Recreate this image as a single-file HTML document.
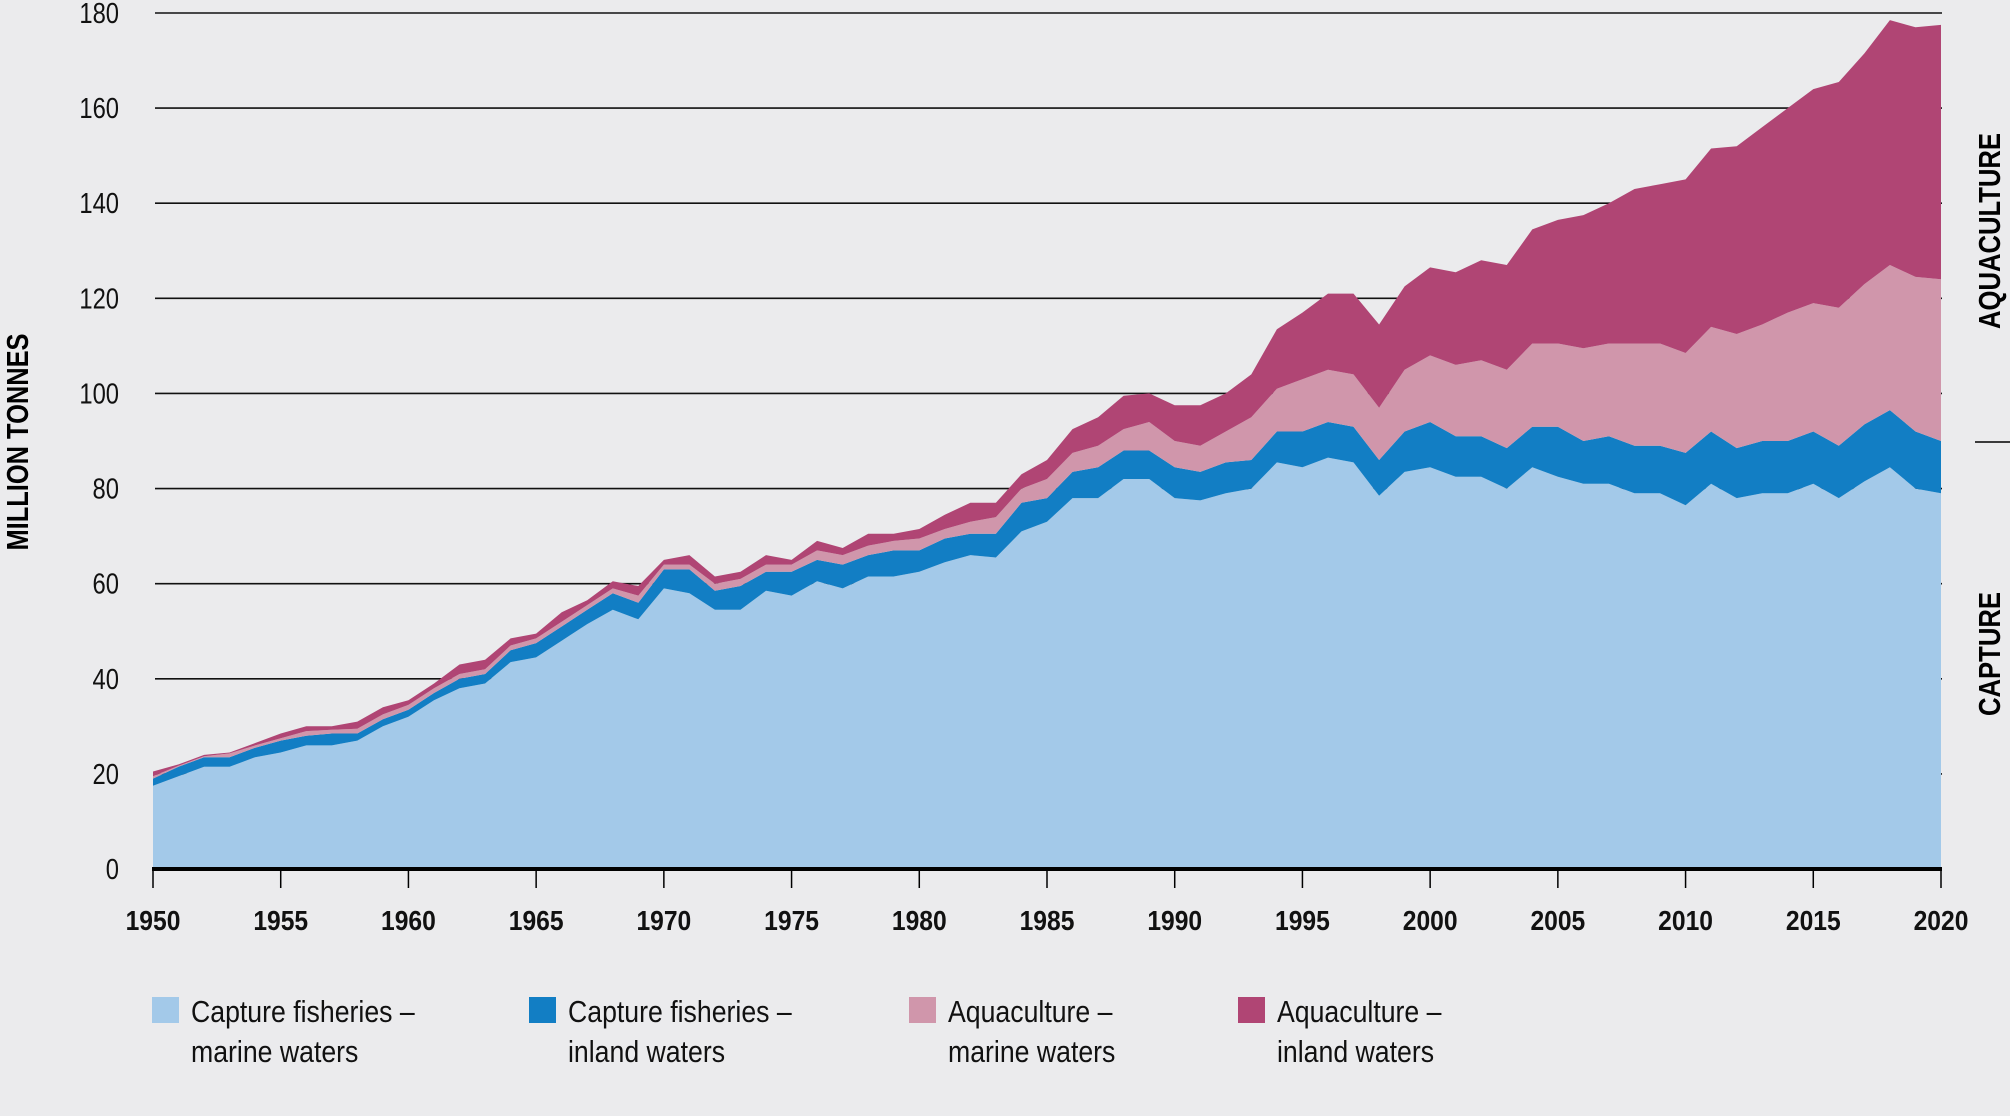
<!DOCTYPE html>
<html><head><meta charset="utf-8"><style>
html,body{margin:0;padding:0;background:#ebebed;}
svg{display:block;font-family:"Liberation Sans Narrow","Liberation Sans",sans-serif;}
</style></head><body>
<svg id="chart" width="2010" height="1116" viewBox="0 0 2010 1116" xmlns="http://www.w3.org/2000/svg">
<rect width="2010" height="1116" fill="#ebebed"/>
<g id="grid"></g>
<g id="areas"></g>
<g id="axes"></g>
<text transform="translate(28,442) rotate(-90)" text-anchor="middle" font-weight="bold" font-size="31" textLength="217" lengthAdjust="spacingAndGlyphs">MILLION TONNES</text>
<text transform="translate(2000,231) rotate(-90)" text-anchor="middle" font-weight="bold" font-size="31" textLength="196" lengthAdjust="spacingAndGlyphs">AQUACULTURE</text>
<text transform="translate(2000,654) rotate(-90)" text-anchor="middle" font-weight="bold" font-size="31" textLength="124" lengthAdjust="spacingAndGlyphs">CAPTURE</text>
<line x1="1975" y1="442" x2="2010" y2="442" stroke="#000" stroke-width="1.5"/>
<g id="legend"></g>
</svg>
<script>
const years = [];
for (let y = 1950; y <= 2020; y++) years.push(y);
const captureMarine = [17.5,19.5,21.5,21.5,23.5,24.5,26,26,27,30,32,35.5,38,39,43.5,44.5,48,51.5,54.5,52.5,59,58,54.5,54.5,58.5,57.5,60.5,59,61.5,61.5,62.5,64.5,66,65.5,71,73,78,78,82,82,78,77.5,79,80,85.5,84.5,86.5,85.5,78.5,83.5,84.5,82.5,82.5,80,84.5,82.5,81,81,79,79,76.5,81,78,79,79,81,78,81.5,84.5,80,79];
const captureInland = [1.5,2,2,2,2,2.5,2,2.5,1.5,1.5,1.5,1.5,2,2,2.5,3,3,3,3.5,3.5,4,5,4,5,4,5,4.5,5,4.5,5.5,4.5,5,4.5,5,6,5,5.5,6.5,6,6,6.5,6,6.5,6,6.5,7.5,7.5,7.5,7.5,8.5,9.5,8.5,8.5,8.5,8.5,10.5,9,10,10,10,11,11,10.5,11,11,11,11,12,12,12,11];
const aquaMarine = [0.5,0.2,0.2,0.8,0.5,0.5,1,0.8,1,1,1,1,1,1,1,1,1,1,1,1.5,1,1,1.5,1.5,1.5,1.5,2,2,2,2,2.5,2,2.5,3.5,3,4,4,4.5,4.5,6,5.5,5.5,6.5,9,9,11,11,11,11,13,14,15,16,16.5,17.5,17.5,19.5,19.5,21.5,21.5,21,22,24,24.5,27,27,29,29.5,30.5,32.5,34];
const aquaInland = [1,0.3,0.3,0.2,0.5,1,1,0.7,1.5,1.5,1,1,2,2,1.5,1,2,1,1.5,2,1,2,1.5,1.5,2,1,2,1.5,2.5,1.5,2,3,4,3,3,4,5,6,7,6,7.5,8.5,8,9,12.5,14,16,17,17.5,17.5,18.5,19.5,21,22,24,26,28,29.5,32.5,33.5,36.5,37.5,39.5,41.5,43,45,47.5,48.5,51.5,52.5,53.5];
const yTicks = [0,20,40,60,80,100,120,140,160,180];
const xTicks = [1950,1955,1960,1965,1970,1975,1980,1985,1990,1995,2000,2005,2010,2015,2020];
const legendLabels = [["Capture fisheries –","marine waters"],["Capture fisheries –","inland waters"],["Aquaculture –","marine waters"],["Aquaculture –","inland waters"]];

const NS = "http://www.w3.org/2000/svg";
const X0 = 153, X1 = 1941, Y0 = 869, Y1 = 13;
const xScale = yr => X0 + (yr - 1950) / 70 * (X1 - X0);
const yScale = v => Y0 - v / 180 * (Y0 - Y1);
function mk(tag, attrs, parent) { const e = document.createElementNS(NS, tag); for (const k in attrs) e.setAttribute(k, attrs[k]); parent.appendChild(e); return e; }

const grid = document.getElementById('grid');
yTicks.forEach(v => {
  if (v > 0) {
    const l = mk('line', {x1: 155, x2: 1942, y1: yScale(v), y2: yScale(v), stroke: '#111', 'stroke-width': 1.6}, grid);
    
    
  }
  const t = mk('text', {transform: 'translate(119,' + (yScale(v) + 10) + ') scale(0.82,1)', 'text-anchor': 'end', 'font-size': 29, fill: '#111'}, grid);
  t.textContent = v;
  
  
});

const series = [captureMarine, captureInland, aquaMarine, aquaInland];
const colors = ['#a3c9e9', '#127ec4', '#d096ab', '#b04574'];
const names = ['area-capture-marine', 'area-capture-inland', 'area-aquaculture-marine', 'area-aquaculture-inland'];
const areas = document.getElementById('areas');
let base = years.map(() => 0);
series.forEach((s, i) => {
  const top = base.map((b, j) => b + s[j]);
  let d = '';
  years.forEach((yr, j) => { d += (j ? 'L' : 'M') + xScale(yr).toFixed(1) + ',' + yScale(top[j]).toFixed(1); });
  for (let j = years.length - 1; j >= 0; j--) d += 'L' + xScale(years[j]).toFixed(1) + ',' + yScale(base[j]).toFixed(1);
  d += 'Z';
  const p = mk('path', {d: d, fill: colors[i]}, areas);
  
  
  base = top;
});

const axes = document.getElementById('axes');
const bl = mk('line', {x1: 152, x2: 1942, y1: Y0, y2: Y0, stroke: '#000', 'stroke-width': 4}, axes);


xTicks.forEach(yr => {
  const tk = mk('line', {x1: xScale(yr), x2: xScale(yr), y1: Y0, y2: Y0 + 19, stroke: '#000', 'stroke-width': 1.5}, axes);
  
  
  const t = mk('text', {transform: 'translate(' + xScale(yr) + ',930) scale(0.88,1)', 'text-anchor': 'middle', 'font-size': 28, 'font-weight': 'bold', fill: '#111'}, axes);
  t.textContent = yr;
  
  
});

const legend = document.getElementById('legend');
const legX = [152, 529, 909, 1238];
legendLabels.forEach((lab, i) => {
  const g = mk('g', {}, legend);
  
  
  const r = mk('rect', {x: legX[i], y: 997, width: 27, height: 26, fill: colors[i]}, g);
  
  
  lab.forEach((line, k) => {
    const t = mk('text', {transform: 'translate(' + (legX[i] + 39) + ',' + (1022 + k * 40) + ') scale(0.86,1)', 'font-size': 31, fill: '#111'}, g);
    t.textContent = line;
    
    
  });
});
</script>
</body></html>
